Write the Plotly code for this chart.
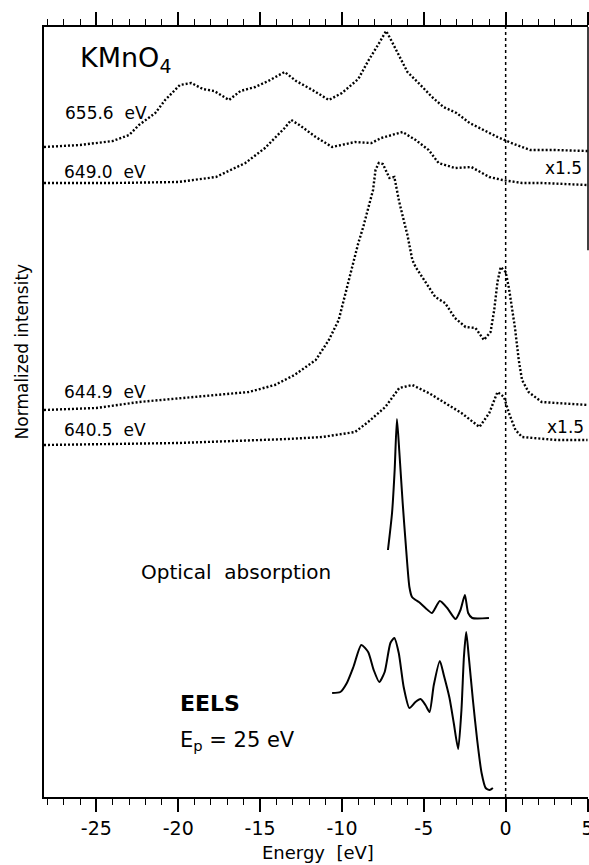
import plotly.graph_objects as go

# ---- data (energy in eV, intensity in arbitrary normalized units) ----
e_6556 = [-28.2, -26, -24, -23, -22.4, -21.4, -20.8, -19.9, -19.2, -18.5, -17.8, -16.9, -16.2, -15.3,
          -14.5, -13.5, -12.8, -11.8, -10.8, -10.0, -9.0, -8.4, -7.8, -7.3, -7.0, -6.6, -6.0, -5.2,
          -4.5, -3.8, -3.0, -2.2, -1.5, -0.5, 0.5, 1.5, 3, 5]
i_6556 = [650, 652, 656, 662, 672, 684, 697, 712, 714, 708, 706, 697, 706, 710,
          716, 725, 716, 707, 697, 704, 718, 736, 752, 766, 757, 744, 725, 712,
          700, 690, 684, 674, 668, 660, 653, 647, 647, 646]

e_6490 = [-28.2, -24, -20, -17.7, -15.9, -14.7, -13.5, -13.1, -12.6, -11.6, -10.6, -9.2, -8.2, -7.6,
          -6.3, -5.5, -4.7, -4.1, -3.1, -2.1, -1.0, -0.2, 1, 2.2, 5]
i_6490 = [614, 614, 615, 620, 634, 649, 669, 677, 672, 660, 650, 655, 654, 659,
          665, 657, 647, 634, 629, 630, 620, 617, 614, 614, 612]

e_6449 = [-28.2, -25, -22.4, -18.8, -15.7, -14.1, -12.9, -11.6, -10.8, -10.2, -9.9, -9.6, -9.3, -9.0,
          -8.7, -8.4, -8.1, -7.95, -7.75, -7.5, -7.1, -6.8, -6.5, -6.2, -6.0, -5.7, -5.5, -4.9, -4.3,
          -3.7, -3.1, -2.45, -1.84, -1.33, -0.92, -0.7, -0.5, -0.3, 0, 0.2, 0.37, 0.57, 0.8, 1.0,
          1.4, 2.2, 5]
i_6449 = [387, 389, 395, 400, 405, 412, 422, 437, 457, 477, 497, 517, 537, 554,
          570, 589, 607, 627, 634, 633, 619, 620, 595, 575, 562, 537, 530, 515, 500,
          494, 479, 470, 469, 457, 465, 487, 515, 530, 525, 509, 490, 469, 437, 417,
          405, 395, 392]

e_6405 = [-28.2, -20, -13.3, -11.2, -9.2, -8.4, -7.35, -6.5, -5.7, -4.7, -3.7, -2.7, -1.6, -1.0,
          -0.5, -0.1, 0.2, 0.6, 1.0, 3.1, 5]
i_6405 = [352, 354, 358, 360, 365, 375, 390, 409, 412, 404, 394, 384, 370, 384,
          405, 400, 384, 367, 360, 357, 357]

e_opt = [-7.19, -6.94, -6.78, -6.64, -6.49, -6.29, -6.09, -5.88, -5.72, -5.5, -5.3, -4.9, -4.5,
         -4.02, -3.57, -3.06, -2.76, -2.49, -2.29, -2.04, -1.02]
i_opt = [247, 284, 327, 378, 344, 294, 250, 210, 200, 197, 195, 189, 184,
         196, 189, 178, 187, 202, 184, 179, 179]

e_eels = [-10.6, -10.1, -9.7, -9.3, -8.82, -8.4, -8.06, -7.72, -7.39, -7.04, -6.8, -6.53, -6.23,
          -5.88, -5.51, -5.2, -4.9, -4.65, -4.39, -4.02, -3.78, -3.43, -3.17, -2.9, -2.7, -2.55,
          -2.41, -2.25, -2.0, -1.74, -1.47, -1.22, -0.98, -0.78]
i_eels = [104, 105, 114, 130, 152, 145, 127, 115, 125, 154, 159, 144, 110,
          89, 95, 98, 92, 85, 112, 136, 122, 99, 74, 48, 87, 140,
          165, 140, 97, 57, 24, 9, 7, 9]

tick_vals = [-25, -20, -15, -10, -5, 0, 5]
tick_text = ["-25", "-20", "-15", "-10", "-5", "0", "5"]

FONT = "DejaVu Sans"
fig = go.Figure()

dotted = [(e_6556, i_6556), (e_6490, i_6490), (e_6449, i_6449), (e_6405, i_6405)]
for xs, ys in dotted:
    fig.add_trace(go.Scatter(x=xs, y=ys, mode="lines",
                             line=dict(color="black", width=2.4, dash="2px,2px"),
                             showlegend=False, hoverinfo="skip"))
for xs, ys in [(e_opt, i_opt), (e_eels, i_eels)]:
    fig.add_trace(go.Scatter(x=xs, y=ys, mode="lines",
                             line=dict(color="black", width=2, shape="spline", smoothing=0.6),
                             showlegend=False, hoverinfo="skip"))

# vertical dotted line at 0 eV
fig.add_shape(type="line", xref="x", yref="paper", x0=0, x1=0, y0=0, y1=1,
              line=dict(color="black", width=1.5, dash="dot"))
# partial right frame line
fig.add_shape(type="line", xref="paper", yref="paper", x0=1, x1=1, y0=0.71, y1=1,
              line=dict(color="black", width=1.5))

def ann(text, x, y, size=17, xanchor="left", xref="x", yref="y", angle=0):
    fig.add_annotation(text=text, x=x, y=y, xref=xref, yref=yref, showarrow=False,
                       xanchor=xanchor, yanchor="middle", textangle=angle,
                       font=dict(family=FONT, size=size, color="black"))

ann("KMnO<sub>4</sub>", -26.1, 738, size=27)
ann("655.6  eV", -27.05, 684)
ann("649.0  eV", -27.1, 625)
ann("644.9  eV", -27.1, 405)
ann("640.5  eV", -27.1, 367)
ann("x1.5", 2.3, 629)
ann("x1.5", 2.42, 370)
ann("Optical  absorption", -22.4, 225, size=20)
ann("<b>EELS</b>", -20.0, 94, size=22)
ann("E<sub>p</sub> = 25 eV", -20.0, 56, size=21)
ann("Normalized intensity", -0.04, 0.579, size=17, xanchor="center", xref="paper", yref="paper", angle=-90)
ann("Energy  [eV]", 0.503, -0.0727, size=18, xanchor="center", xref="paper", yref="paper")

fig.update_layout(
    width=589, height=865,
    margin=dict(l=44, r=1, t=27, b=68, autoexpand=False),
    paper_bgcolor="white", plot_bgcolor="white",
    font=dict(family=FONT, size=17, color="black"),
    xaxis=dict(range=[-28.2, 5.03], tickvals=tick_vals, ticktext=tick_text,
               ticks="outside", ticklen=13, tickwidth=1.5, tickcolor="black",
               showline=True, linecolor="black", linewidth=1.5, mirror="ticks",
               showgrid=False, zeroline=False, ticklabeloverflow="allow", automargin=False,
               minor=dict(dtick=1, tick0=0, ticks="outside", ticklen=6, tickwidth=1.3,
                          tickcolor="black", showgrid=False),
               tickfont=dict(family=FONT, size=19, color="black")),
    yaxis=dict(range=[0, 770], showticklabels=False, ticks="", showgrid=False,
               zeroline=False, showline=True, linecolor="black", linewidth=1.5,
               automargin=False),
)

fig.write_html("out.html")
